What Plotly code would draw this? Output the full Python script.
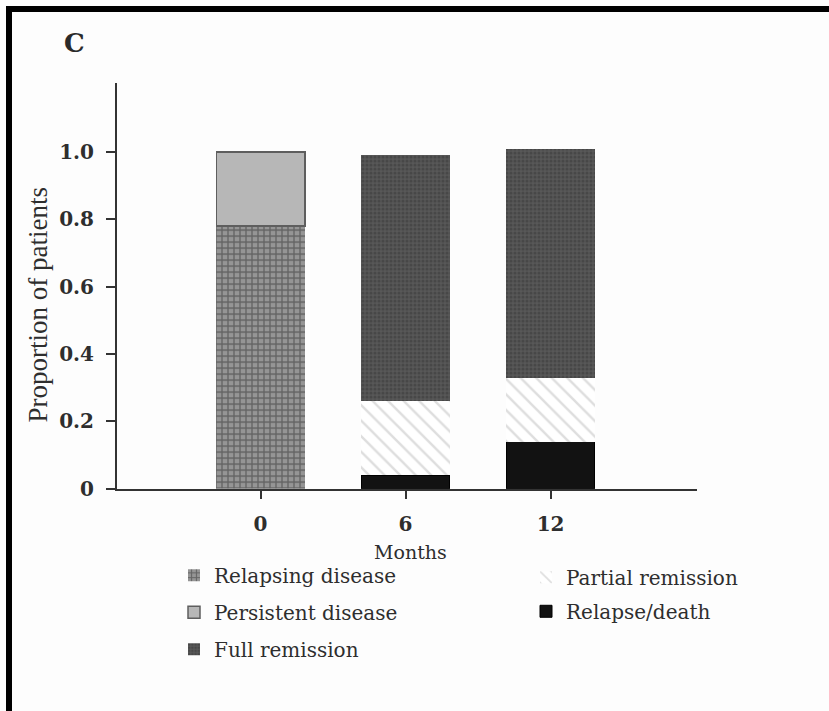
import plotly.graph_objects as go

# Follow-up time points (months)
months = ["0", "6", "12"]

# Proportion of patients in each state at each time point
relapsing_disease = [0.78, None, None]
persistent_disease = [0.22, None, None]
relapse_death = [None, 0.04, 0.14]
partial_remission = [None, 0.22, 0.19]
full_remission = [None, 0.73, 0.68]

y_tick_vals = [0, 0.2, 0.4, 0.6, 0.8, 1.0]
y_tick_text = ["0", "0.2", "0.4", "0.6", "0.8", "1.0"]

SERIF = "DejaVu Serif"
TEXT = "#2e2e2e"
W, H = 829, 724
REF_H = 711  # layout grid used for paper positions


def px(x):
    return x / W


def py(y):
    return 1 - y / REF_H


fig = go.Figure()

# Stacking order: bottom segment first
fig.add_trace(go.Bar(
    name="Relapse/death", x=months, y=relapse_death,
    marker=dict(color="#121212", line=dict(color="#000000", width=1)),
    legend="legend2", legendrank=2, legendgroup="rd",
))
fig.add_trace(go.Bar(
    name="Relapsing disease", x=months, y=relapsing_disease,
    marker=dict(color="#858585", line=dict(width=0),
                pattern=dict(shape="+", fgcolor="#333333", bgcolor="#959595",
                             size=6, solidity=0.4)),
    legend="legend", legendrank=1, legendgroup="rel",
))
fig.add_trace(go.Bar(
    name="Partial remission", x=months, y=partial_remission,
    marker=dict(color="#ffffff", line=dict(width=0),
                pattern=dict(shape="\\", fgcolor="#bdbdbd", bgcolor="#ffffff",
                             size=11, solidity=0.22)),
    legend="legend2", legendrank=1, legendgroup="pr",
))
fig.add_trace(go.Bar(
    name="Persistent disease", x=months, y=persistent_disease,
    marker=dict(color="#b7b7b7", line=dict(color="#5e5e5e", width=1.5)),
    legend="legend", legendrank=2, legendgroup="per",
))
fig.add_trace(go.Bar(
    name="Full remission", x=months, y=full_remission,
    marker=dict(color="#505050", line=dict(width=0),
                pattern=dict(shape=".", fgcolor="#383838", bgcolor="#575757",
                             size=4, solidity=0.5)),
    legend="legend", legendrank=3, legendgroup="full",
))

legend_style = dict(
    orientation="v", traceorder="grouped",
    bgcolor="rgba(0,0,0,0)", borderwidth=0,
    font=dict(family=SERIF, size=20, color=TEXT),
    xanchor="left", yanchor="top", itemwidth=30,
)

fig.update_layout(
    width=W, height=H, autosize=False,
    margin=dict(l=0, r=0, t=0, b=0),
    paper_bgcolor="#fdfdfd", plot_bgcolor="#fdfdfd",
    barmode="stack", bargap=0.39,
    showlegend=True,
    legend=dict(x=px(174), y=py(555), tracegroupgap=8, **legend_style),
    legend2=dict(x=px(526), y=py(557), tracegroupgap=5, **legend_style),
    xaxis=dict(
        domain=[px(117), px(697)],
        type="category", categoryorder="array", categoryarray=months,
        range=[-0.99, 3.01],
        showline=True, linecolor="#333333", linewidth=2,
        ticks="outside", ticklen=8, tickwidth=1.5, tickcolor="#333333",
        ticklabelstandoff=8,
        tickfont=dict(family=SERIF, size=20, color=TEXT, weight="bold"),
        showgrid=False, zeroline=False,
    ),
    yaxis=dict(
        domain=[py(488), py(83)],
        range=[0, 1.205],
        tickmode="array", tickvals=y_tick_vals, ticktext=y_tick_text,
        showline=True, linecolor="#333333", linewidth=2,
        ticks="outside", ticklen=9, tickwidth=1.5, tickcolor="#333333",
        ticklabelstandoff=8,
        tickfont=dict(family=SERIF, size=20, color=TEXT, weight="bold"),
        showgrid=False, zeroline=False,
    ),
)

# X-axis title
fig.add_annotation(
    text="Months", xref="paper", yref="paper", x=px(410), y=py(551),
    showarrow=False, xanchor="center", yanchor="middle",
    font=dict(family=SERIF, size=19, color=TEXT),
)

# Y-axis title placed as a rotated label
fig.add_annotation(
    text="Proportion of patients", textangle=-90,
    xref="paper", yref="paper", x=px(38), y=py(305),
    showarrow=False, xanchor="center", yanchor="middle",
    font=dict(family="Liberation Serif", size=27, color=TEXT),
)

# Panel letter
fig.add_annotation(
    text="<b>C</b>", xref="paper", yref="paper", x=px(74), y=py(43),
    showarrow=False, xanchor="center", yanchor="middle",
    font=dict(family=SERIF, size=26, color="#2a2a2a"),
)

# Panel frame (top and left edges)
fig.add_shape(type="rect", xref="paper", yref="paper",
              x0=px(6), x1=1, y0=py(12), y1=py(6),
              fillcolor="#000000", line=dict(width=0), layer="above")
fig.add_shape(type="rect", xref="paper", yref="paper",
              x0=px(6), x1=px(12), y0=0, y1=py(6),
              fillcolor="#000000", line=dict(width=0), layer="above")

fig.write_html("out.html")
